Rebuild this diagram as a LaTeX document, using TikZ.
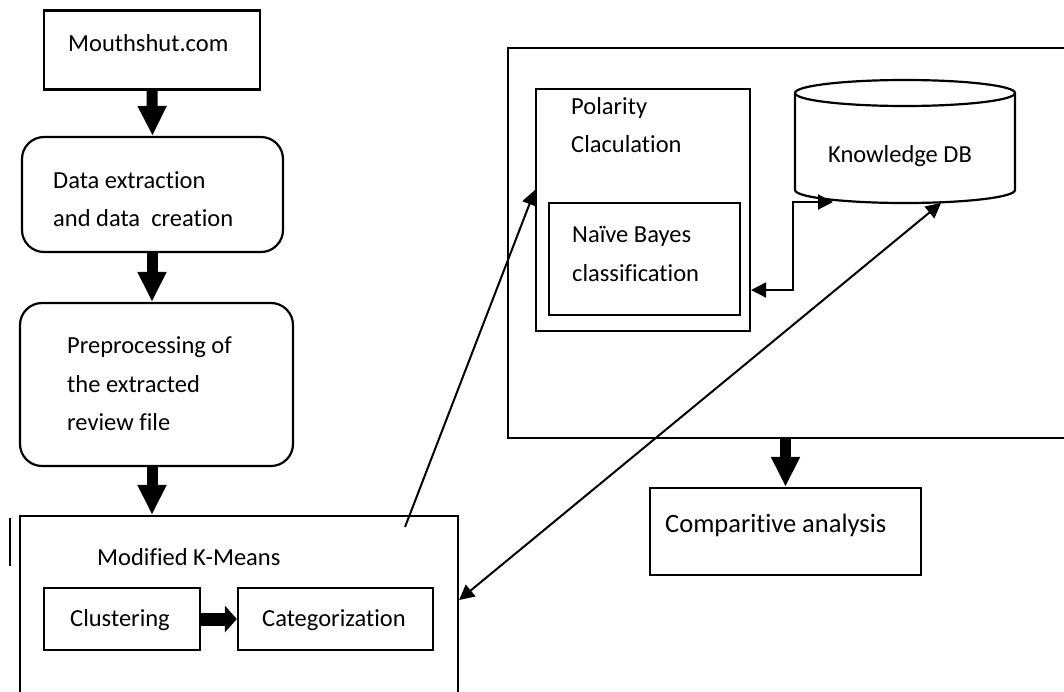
\documentclass[tikz,border=0pt]{standalone}
\usepackage{fontspec}
\setmainfont{Carlito}[Ligatures=NoCommon]
\usetikzlibrary{arrows.meta}
\newcommand*{\mytextstyle}{\fontsize{24.5}{38.5}\selectfont}
\newcommand*{\bigtextstyle}{\fontsize{26.5}{32}\selectfont}
\tikzset{
   box/.style      = {draw, line width=2.2pt, inner sep=0pt},
   roundbox/.style = {box, rounded corners=22pt},
   boxtext/.style  = {font=\mytextstyle, align=left, anchor=west, inner sep=0pt},
   fatarrow/.style = {line width=11pt, -{Triangle[length=30pt,width=27pt]}},
   thinarrow/.style = {line width=2pt, -{Triangle[length=15pt,width=15pt]}},
   bothways/.style = {line width=2pt,
      {Triangle[length=15pt,width=15pt]}-{Triangle[length=15pt,width=15pt]}}
}

\begin{document}
\begin{tikzpicture}[x=1pt, y=-1pt]
   \useasboundingbox (0,0) rectangle (1064,691);

   % left column
   \node[box, minimum width=216pt, minimum height=79pt] (mouth) at (152,50) {};
   \node[roundbox, minimum width=261pt, minimum height=115pt] (extract) at (152.5,194.5) {};
   \node[roundbox, minimum width=273pt, minimum height=163pt] (prep) at (156.5,384.5) {};
   \node[box, minimum width=438pt, minimum height=184pt] (kmeans) at (239,608) {};
   \node[box, minimum width=156pt, minimum height=62pt] (clust) at (122,619) {};
   \node[box, minimum width=195pt, minimum height=62pt] (categ) at (335.5,619) {};

   \node[boxtext] (mouth-txt) at (68,43) {Mouthshut.com};
   \node[boxtext] (extract-txt) at (53,199) {Data extraction\\and data~ creation};
   \node[boxtext] (prep-txt) at (67,384) {Preprocessing of\\the extracted\\review file};
   \node[boxtext] (kmeans-txt) at (97,557) {Modified K-Means};
   \node[boxtext] (clust-txt) at (70,620) {Clustering};
   \node[boxtext] (categ-txt) at (262,620) {Categorization};

   \draw[line width=2.5pt] (10,518) -- (10,566);

   % right part
   \node[box, minimum width=572pt, minimum height=390pt] (outer) at (794,243) {};
   \node[box, minimum width=214pt, minimum height=242pt] (polar) at (643,210) {};
   \node[box, minimum width=191pt, minimum height=112pt] (naive) at (644.5,259) {};
   \node[box, minimum width=271pt, minimum height=87pt] (compare) at (785.5,531.5) {};

   \node[boxtext] (polar-txt) at (571,125) {Polarity\\Claculation};
   \node[boxtext] (naive-txt) at (572,254) {Naïve Bayes\\classification};
   \node[boxtext, font=\bigtextstyle] (compare-txt) at (665,525) {Comparitive analysis};

   % knowledge base cylinder
   \draw[line width=2.2pt] (795,93) -- (795,190)
      arc[start angle=180, end angle=0, x radius=110, y radius=13] -- (1015,93);
   \draw[line width=2.2pt] (905,93) ellipse [x radius=110, y radius=13];
   \node[font=\mytextstyle, inner sep=0pt] (kdb) at (900,156) {Knowledge DB};
   \coordinate (dbin) at (833,202);
   \coordinate (dbout) at (941,203);
   \coordinate (kmout) at (405,527);

   % connectors
   \draw[fatarrow] (mouth.south) -- (extract.north);
   \draw[fatarrow] (mouth.south |- extract.south) -- (mouth.south |- prep.north);
   \draw[fatarrow] (mouth.south |- prep.south) -- (mouth.south |- kmeans.north);
   \draw[line width=13pt, -{Triangle[length=12pt,width=26pt]}] (clust) -- (categ);
   \draw[fatarrow] (compare.north |- outer.south) -- (compare.north);

   \draw[thinarrow] (kmout) -- ([yshift=20pt]polar.west);
   \draw[bothways] ([yshift=8pt]kmeans.east) -- (dbout);
   \draw[bothways] ([yshift=-80pt]polar.east) -- ++(42,0) |- (dbin);
\end{tikzpicture}
\end{document}
